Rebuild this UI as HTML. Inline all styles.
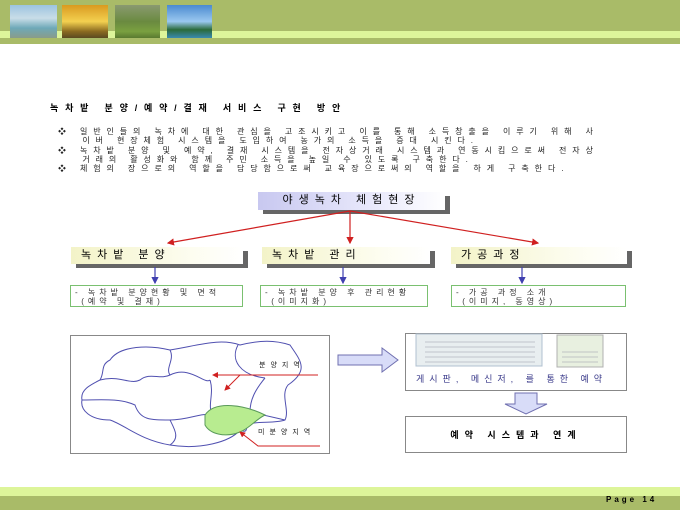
<!DOCTYPE html>
<html><head><meta charset="utf-8"><style>
body{margin:0;width:680px;height:510px;position:relative;background:#fff;font-family:"Liberation Sans","Noto Sans CJK KR",sans-serif;overflow:hidden}
.a{position:absolute;white-space:nowrap}
.t{font-size:8px;letter-spacing:5px;color:#222}
.lv{position:absolute;height:17px;background:linear-gradient(90deg,#f3f3c8,#fdfdf0 70%,#fff);box-shadow:5px 4px 0 #666;font-size:11px;letter-spacing:6px;line-height:17px;padding-left:10px;box-sizing:border-box}
.gb{position:absolute;height:22px;border:1px solid #7ac070;background:#fff;font-size:8px;letter-spacing:4px;line-height:9px;padding:2px 4px;box-sizing:border-box;color:#333}
</style></head><body>
<div class="a" style="left:0;top:0;width:680px;height:31px;background:#a9bb68"></div>
<div class="a" style="left:0;top:31px;width:680px;height:7px;background:#ddf59a"></div>
<div class="a" style="left:0;top:38px;width:680px;height:6px;background:#a9bb68"></div>
<div class="a" style="left:10px;top:5px;width:47px;height:33px;background:linear-gradient(#9cc4e0,#c9dde8 40%,#6ea9b8 70%,#8a9c8a)"></div>
<div class="a" style="left:62px;top:5px;width:46px;height:33px;background:linear-gradient(#d99a20,#f3d050 50%,#8a6a20 80%,#5a4a20)"></div>
<div class="a" style="left:115px;top:5px;width:45px;height:33px;background:linear-gradient(#8a9a70,#6a8a40 50%,#7aa040 80%,#5a7a30)"></div>
<div class="a" style="left:167px;top:5px;width:45px;height:33px;background:linear-gradient(#4a8ad0,#9ac8f0 50%,#2a6a3a 75%,#3a8ab0)"></div>

<div class="a" style="left:50px;top:101px;font-size:9px;font-weight:bold;letter-spacing:6.8px">녹차밭 분양/예약/결재 서비스 구현 방안</div>
<div class="a t" style="left:58px;top:127px;line-height:9.3px;letter-spacing:5.9px">
❖ 일반인들의 녹차에 대한 관심을 고조시키고 이를 통해 소득창출을 이루기 위해 사<br>
&nbsp;&nbsp;&nbsp;이버 현장체험 시스템을 도입하여 농가의 소득을 증대 시킨다.<br>
❖ 녹차밭 분양 및 예약, 결재 시스템을 전자상거래 시스템과 연동시킴으로써 전자상<br>
&nbsp;&nbsp;&nbsp;거래의 활성화와 함께 주민 소득을 높일 수 있도록 구축한다.<br>
❖ 체험의 장으로의 역할을 담당함으로써 교육장으로써의 역할을 하게 구축한다.</div>

<div class="lv" style="left:258px;top:192px;width:187px;height:18px;background:linear-gradient(90deg,#c8c8f0,#e8e8fb 60%,#fff);text-align:center;padding:0">야생녹차 체험현장</div>
<div class="lv" style="left:71px;top:247px;width:172px">녹차밭 분양</div>
<div class="lv" style="left:262px;top:247px;width:168px">녹차밭 관리</div>
<div class="lv" style="left:451px;top:247px;width:176px">가공과정</div>

<svg class="a" style="left:0;top:0" width="680" height="510">
<defs><marker id="r" markerWidth="6" markerHeight="6" refX="5" refY="3" orient="auto"><path d="M0,0L6,3L0,6z" fill="#d02020"/></marker>
<marker id="b" markerWidth="6" markerHeight="6" refX="5" refY="3" orient="auto"><path d="M0,0L6,3L0,6z" fill="#4040b0"/></marker></defs>
<g stroke="#d02020" stroke-width="1.2" marker-end="url(#r)">
<line x1="350" y1="211" x2="168" y2="243"/><line x1="350" y1="211" x2="350" y2="243"/><line x1="350" y1="211" x2="538" y2="243"/>
</g>
<g stroke="#4040b0" stroke-width="1.2" marker-end="url(#b)">
<line x1="155" y1="267" x2="155" y2="283"/><line x1="343" y1="267" x2="343" y2="283"/><line x1="522" y1="267" x2="522" y2="283"/>
</g>
<rect x="70.5" y="335.5" width="259" height="118" fill="#fff" stroke="#888"/>
<g fill="none" stroke="#5050b0" stroke-width="1">
<path d="M110,360 C120,345 150,345 170,350 C200,345 220,338 240,345 C260,340 275,340 290,345 C300,360 310,370 288,385 C280,395 290,410 285,420 C270,425 250,418 240,430 C230,442 200,450 170,445 C140,440 125,425 110,420 C90,420 80,410 82,400 C80,390 90,385 100,380 C105,372 100,365 110,360 Z"/>
<path d="M238,345 C230,360 240,375 265,378"/>
<path d="M265,378 C255,390 250,400 250,412 L285,420"/>
<path d="M250,412 C245,425 250,435 240,430"/>
<path d="M100,380 C120,375 130,385 140,380 C150,372 160,380 170,375 C190,365 205,385 210,380"/>
<path d="M170,350 C175,360 165,368 170,375"/>
<path d="M210,380 C215,395 205,410 215,415 C225,422 235,410 250,412"/>
<path d="M82,400 C100,400 120,398 135,405 C140,420 150,420 170,420 C190,420 200,412 215,415"/>
<path d="M170,420 C175,430 180,438 170,445"/>
</g>
<path d="M205,415 C215,400 245,405 265,415 C255,420 250,428 240,432 C225,438 210,434 205,425 Z" fill="#b8ec90" stroke="#5a9a5a"/>
<g stroke="#d02020" stroke-width="1" fill="none">
<line x1="318" y1="375" x2="213" y2="375" marker-end="url(#r)"/>
<line x1="240" y1="375" x2="225" y2="390" marker-end="url(#r)"/>
<polyline points="320,446 258,446 240,432" marker-end="url(#r)"/>
</g>
<path d="M338,355 L382,355 L382,348 L398,360 L382,372 L382,365 L338,365 Z" fill="#d8dcf8" stroke="#7070b0"/>
<rect x="405.5" y="333.5" width="221" height="57" fill="#fff" stroke="#888"/>
<rect x="416" y="334" width="126" height="32" fill="#e8eef0" stroke="#b0c0d0"/>
<rect x="557" y="335" width="46" height="32" fill="#e8f0e0" stroke="#b0b0b0"/>
<g stroke="#99a" stroke-width="0.6">
<line x1="425" y1="342" x2="535" y2="342"/><line x1="425" y1="347" x2="535" y2="347"/><line x1="425" y1="352" x2="535" y2="352"/><line x1="425" y1="357" x2="535" y2="357"/><line x1="425" y1="362" x2="535" y2="362"/>
<line x1="562" y1="352" x2="598" y2="352"/><line x1="562" y1="357" x2="598" y2="357"/><line x1="562" y1="362" x2="598" y2="362"/></g>
<path d="M515,393 L537,393 L537,404 L547,404 L526,414 L505,404 L515,404 Z" fill="#d8dcf8" stroke="#7070b0"/>
<rect x="405.5" y="416.5" width="221" height="36" fill="#fff" stroke="#888"/>
</svg>
<div class="gb" style="left:70px;top:285px;width:173px">- 녹차밭 분양현황 및 면적<br>&nbsp;(예약 및 결재)</div>
<div class="gb" style="left:260px;top:285px;width:168px">- 녹차밭 분양 후 관리현황<br>&nbsp;(이미지화)</div>
<div class="gb" style="left:451px;top:285px;width:175px">- 가공 과정 소개<br>&nbsp;(이미지, 동영상)</div>
<div class="a t" style="left:259px;top:360px;font-size:7px">분양지역</div>
<div class="a t" style="left:258px;top:427px;font-size:7px">미분양지역</div>
<div class="a" style="left:416px;top:372px;font-size:9px;letter-spacing:5px;color:#3a3a8a">게시판, 메신저, 를 통한 예약</div>
<div class="a" style="left:405px;top:428px;width:222px;text-align:center;font-size:9px;font-weight:bold;letter-spacing:6px">예약 시스템과 연계</div>
<div class="a" style="left:0;top:487px;width:680px;height:9px;background:#ddf59a"></div>
<div class="a" style="left:0;top:496px;width:680px;height:14px;background:#a9bb68"></div>
<div class="a" style="left:606px;top:495px;font-size:8px;font-weight:bold;letter-spacing:3px">Page 14</div>
</body></html>
